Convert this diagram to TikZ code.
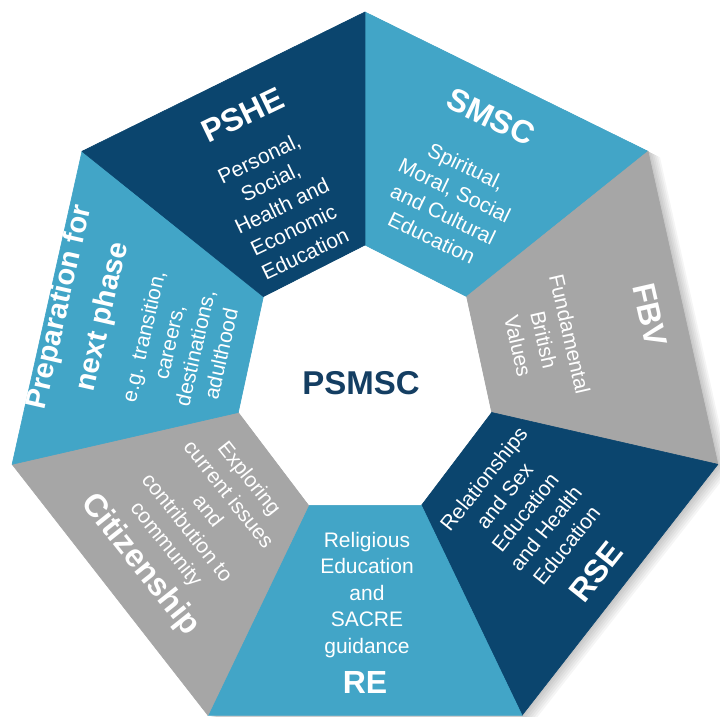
\documentclass[tikz,border=0pt]{standalone}
\usepackage{fontspec}
\setmainfont{Liberation Sans}
\definecolor{psnavy}{RGB}{11,69,110}
\definecolor{psblue}{RGB}{66,165,199}
\definecolor{psgrey}{RGB}{166,166,166}
\definecolor{psink}{RGB}{20,62,98}
\begin{document}
\begin{tikzpicture}[
		ttl/.style={text=white,inner sep=0pt,align=center,font=\bfseries\fontsize{32}{36}\selectfont},
		txt/.style={text=white,inner sep=0pt,align=center,font=\fontsize{21}{26.5}\selectfont}]
	\useasboundingbox (-365pt,-334pt) rectangle (355pt,382pt);
	\foreach \i in {0,...,6} {
		\coordinate (o\i) at ({90-360/7*\i}:362pt and 370pt);
		\coordinate (i\i) at ({90-360/7*\i}:130pt and 137pt);
	}
	\foreach \s in {2,4,...,12}
		\fill[black,opacity=.04,transform canvas={shift={({\s*1pt},{-\s*0.5pt})}}] (o0) -- (o1) -- (o2) -- (o3) -- (o4) -- (o5) -- (o6) -- cycle;
	\fill[white] (i0) -- (i1) -- (i2) -- (i3) -- (i4) -- (i5) -- (i6) -- cycle;
	\foreach \a/\b/\col in {0/1/psblue,1/2/psgrey,2/3/psnavy,3/4/psblue,4/5/psgrey,5/6/psblue,6/0/psnavy}
		\filldraw[fill=\col,draw=\col,line width=.6pt,line join=round] (o\a) -- (o\b) -- (i\b) -- (i\a) -- cycle;
	\node[font=\bfseries\fontsize{33}{36}\selectfont,text=psink] (psmsc) at (-4pt,-1pt) {PSMSC};
	\node[ttl,rotate=360/14] (pshe) at (-122pt,267pt) {PSHE};
	\node[txt,rotate=360/14] (pshe-txt) at (-83pt,176pt) {Personal,\\Social,\\Health and\\Economic\\Education};
	\node[ttl,rotate=-360/14] (smsc) at (126pt,265pt) {SMSC};
	\node[txt,rotate=-360/14] (smsc-txt) at (84pt,180pt) {Spiritual,\\Moral, Social\\and Cultural\\Education};
	\node[ttl,rotate=-540/7] (fbv) at (285pt,67pt) {FBV};
	\node[txt,rotate=-540/7] (fbv-txt) at (179pt,42pt) {Fundamental\\British\\Values};
	\node[txt,rotate=360/7] (rse-txt) at (160pt,-130pt) {Relationships\\and Sex\\Education\\and Health\\Education};
	\node[ttl,rotate=360/7] (rse) at (231pt,-190pt) {RSE};
	\node[txt] (re-txt) at (2pt,-213pt) {Religious\\Education\\and\\SACRE\\guidance};
	\node[ttl] (re) at (0pt,-300pt) {RE};
	\node[txt,rotate=-360/7] (cit-txt) at (-158pt,-130pt) {Exploring\\current issues\\and\\contribution to\\community};
	\node[ttl,rotate=-360/7] (cit) at (-225pt,-183pt) {Citizenship};
	\node[ttl,rotate=540/7,font=\bfseries\fontsize{29}{44}\selectfont] (prep) at (-283pt,70pt) {Preparation for\\next phase};
	\node[txt,rotate=540/7] (prep-txt) at (-183pt,37pt) {e.g. transition,\\careers,\\destinations,\\adulthood};
\end{tikzpicture}
\end{document}
